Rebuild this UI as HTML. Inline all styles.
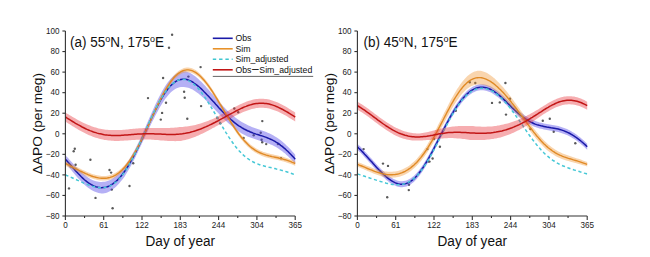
<!DOCTYPE html>
<html><head><meta charset="utf-8"><style>
html,body{margin:0;padding:0;background:#fff;width:650px;height:257px;overflow:hidden}
svg{display:block}
</style></head><body>
<svg width="650" height="257" viewBox="0 0 650 257">
<circle cx="172.1" cy="34.7" r="1.2" fill="#5a5a5a"/>
<circle cx="169" cy="47.8" r="1.2" fill="#5a5a5a"/>
<circle cx="200.6" cy="67.1" r="1.2" fill="#5a5a5a"/>
<circle cx="163.1" cy="78" r="1.2" fill="#5a5a5a"/>
<circle cx="188.4" cy="76.6" r="1.2" fill="#5a5a5a"/>
<circle cx="184.1" cy="91.8" r="1.2" fill="#5a5a5a"/>
<circle cx="184.7" cy="97.8" r="1.2" fill="#5a5a5a"/>
<circle cx="148" cy="98.1" r="1.2" fill="#5a5a5a"/>
<circle cx="166" cy="102.8" r="1.2" fill="#5a5a5a"/>
<circle cx="162.1" cy="112.9" r="1.2" fill="#5a5a5a"/>
<circle cx="160.8" cy="119.6" r="1.2" fill="#5a5a5a"/>
<circle cx="201.1" cy="106.1" r="1.2" fill="#5a5a5a"/>
<circle cx="187.3" cy="118.7" r="1.2" fill="#5a5a5a"/>
<circle cx="234.3" cy="108.5" r="1.2" fill="#5a5a5a"/>
<circle cx="238.2" cy="112.3" r="1.2" fill="#5a5a5a"/>
<circle cx="262.3" cy="121.1" r="1.2" fill="#5a5a5a"/>
<circle cx="217.4" cy="118" r="1.2" fill="#5a5a5a"/>
<circle cx="220.2" cy="123.2" r="1.2" fill="#5a5a5a"/>
<circle cx="253.7" cy="135.3" r="1.2" fill="#5a5a5a"/>
<circle cx="260.7" cy="132.8" r="1.2" fill="#5a5a5a"/>
<circle cx="261.6" cy="139.8" r="1.2" fill="#5a5a5a"/>
<circle cx="262.2" cy="142.2" r="1.2" fill="#5a5a5a"/>
<circle cx="266.2" cy="144.1" r="1.2" fill="#5a5a5a"/>
<circle cx="243.6" cy="137.9" r="1.2" fill="#5a5a5a"/>
<circle cx="281" cy="158.2" r="1.2" fill="#5a5a5a"/>
<circle cx="277.9" cy="144.1" r="1.2" fill="#5a5a5a"/>
<circle cx="73.7" cy="151.2" r="1.2" fill="#5a5a5a"/>
<circle cx="74.8" cy="148.8" r="1.2" fill="#5a5a5a"/>
<circle cx="90.4" cy="159.7" r="1.2" fill="#5a5a5a"/>
<circle cx="109.5" cy="170" r="1.2" fill="#5a5a5a"/>
<circle cx="111.1" cy="172.6" r="1.2" fill="#5a5a5a"/>
<circle cx="75.6" cy="164.8" r="1.2" fill="#5a5a5a"/>
<circle cx="70.9" cy="166.4" r="1.2" fill="#5a5a5a"/>
<circle cx="133.2" cy="163.2" r="1.2" fill="#5a5a5a"/>
<circle cx="129.5" cy="186" r="1.2" fill="#5a5a5a"/>
<circle cx="69" cy="188.4" r="1.2" fill="#5a5a5a"/>
<circle cx="95.5" cy="197.9" r="1.2" fill="#5a5a5a"/>
<circle cx="111.8" cy="189.6" r="1.2" fill="#5a5a5a"/>
<circle cx="112.6" cy="208.3" r="1.2" fill="#5a5a5a"/>
<path d="M65.4,155.2 L66.8,156.7 L68.3,158.3 L69.7,159.9 L71.2,161.5 L72.6,163.1 L74.1,164.7 L75.5,166.2 L77.0,167.7 L78.4,169.2 L79.9,170.6 L81.3,172.0 L82.7,173.3 L84.2,174.5 L85.6,175.7 L87.1,176.8 L88.5,177.8 L90.0,178.7 L91.4,179.5 L92.9,180.2 L94.3,180.7 L95.8,181.2 L97.2,181.6 L98.6,181.8 L100.1,182.0 L101.5,182.0 L103.0,181.8 L104.4,181.7 L105.9,181.5 L107.3,181.1 L108.8,180.6 L110.2,179.9 L111.6,179.2 L113.1,178.3 L114.5,177.3 L116.0,176.1 L117.4,174.8 L118.9,173.4 L120.3,171.8 L121.8,170.1 L123.2,168.3 L124.7,166.3 L126.1,164.3 L127.5,162.1 L129.0,159.9 L130.4,157.5 L131.9,155.0 L133.3,152.4 L134.8,149.7 L136.2,147.0 L137.7,144.1 L139.1,141.2 L140.6,138.1 L142.0,134.9 L143.4,131.6 L144.9,128.2 L146.3,124.9 L147.8,121.6 L149.2,118.2 L150.7,114.9 L152.1,111.7 L153.6,108.5 L155.0,105.3 L156.5,102.3 L157.9,99.3 L159.3,96.4 L160.8,93.7 L162.2,91.1 L163.7,88.6 L165.1,86.3 L166.6,84.1 L168.0,82.1 L169.5,80.3 L170.9,78.6 L172.4,77.1 L173.8,75.7 L175.2,74.6 L176.7,73.6 L178.1,72.8 L179.6,72.2 L181.0,71.7 L182.5,71.4 L183.9,71.3 L185.4,71.3 L186.8,71.7 L188.2,72.2 L189.7,72.8 L191.1,73.6 L192.6,74.5 L194.0,75.5 L195.5,76.6 L196.9,77.8 L198.4,79.0 L199.8,80.4 L201.3,81.8 L202.7,83.3 L204.1,84.8 L205.6,86.3 L207.0,87.9 L208.5,89.6 L209.9,91.2 L211.4,92.9 L212.8,94.6 L214.3,96.3 L215.7,97.9 L217.2,99.6 L218.6,101.3 L220.0,102.9 L221.5,104.5 L222.9,106.0 L224.4,107.5 L225.8,108.9 L227.3,110.4 L228.7,111.7 L230.2,113.1 L231.6,114.4 L233.1,115.6 L234.5,116.8 L235.9,117.9 L237.4,119.0 L238.8,120.0 L240.3,121.0 L241.7,121.9 L243.2,122.8 L244.6,123.6 L246.1,124.3 L247.5,125.0 L249.0,125.7 L250.4,126.3 L251.8,126.9 L253.3,127.5 L254.7,128.0 L256.2,128.5 L257.6,129.0 L259.1,129.5 L260.5,130.0 L262.0,130.5 L263.4,131.0 L264.8,131.6 L266.3,132.1 L267.7,132.7 L269.2,133.3 L270.6,134.0 L272.1,134.7 L273.5,135.5 L275.0,136.4 L276.4,137.2 L277.9,138.2 L279.3,139.2 L280.7,140.3 L282.2,141.5 L283.6,142.7 L285.1,144.0 L286.5,145.4 L288.0,146.8 L289.4,148.3 L290.9,149.8 L292.3,151.4 L293.8,153.0 L295.2,154.7 L295.2,163.7 L293.8,162.1 L292.3,160.6 L290.9,159.1 L289.4,157.7 L288.0,156.3 L286.5,154.9 L285.1,153.6 L283.6,152.4 L282.2,151.3 L280.7,150.2 L279.3,149.2 L277.9,148.2 L276.4,147.3 L275.0,146.5 L273.5,145.8 L272.1,145.1 L270.6,144.4 L269.2,143.8 L267.7,143.3 L266.3,142.8 L264.8,142.3 L263.4,141.8 L262.0,141.4 L260.5,141.0 L259.1,140.5 L257.6,140.1 L256.2,139.6 L254.7,139.1 L253.3,138.6 L251.8,138.1 L250.4,137.6 L249.0,137.0 L247.5,136.4 L246.1,135.7 L244.6,135.0 L243.2,134.2 L241.7,133.4 L240.3,132.5 L238.8,131.6 L237.4,130.6 L235.9,129.5 L234.5,128.4 L233.1,127.3 L231.6,126.1 L230.2,124.8 L228.7,123.5 L227.3,122.2 L225.8,120.8 L224.4,119.4 L222.9,117.9 L221.5,116.4 L220.0,114.9 L218.6,113.4 L217.2,111.9 L215.7,110.4 L214.3,108.9 L212.8,107.4 L211.4,105.9 L209.9,104.4 L208.5,102.9 L207.0,101.4 L205.6,100.0 L204.1,98.6 L202.7,97.2 L201.3,95.9 L199.8,94.7 L198.4,93.5 L196.9,92.4 L195.5,91.4 L194.0,90.4 L192.6,89.6 L191.1,88.9 L189.7,88.3 L188.2,87.8 L186.8,87.5 L185.4,87.3 L183.9,87.1 L182.5,87.0 L181.0,87.1 L179.6,87.3 L178.1,87.7 L176.7,88.3 L175.2,89.0 L173.8,90.0 L172.4,91.1 L170.9,92.3 L169.5,93.8 L168.0,95.4 L166.6,97.2 L165.1,99.1 L163.7,101.2 L162.2,103.4 L160.8,105.8 L159.3,108.3 L157.9,110.9 L156.5,113.6 L155.0,116.3 L153.6,119.2 L152.1,122.1 L150.7,125.1 L149.2,128.1 L147.8,131.1 L146.3,134.2 L144.9,137.2 L143.4,140.3 L142.0,143.3 L140.6,146.2 L139.1,149.3 L137.7,152.4 L136.2,155.5 L134.8,158.4 L133.3,161.3 L131.9,164.1 L130.4,166.8 L129.0,169.3 L127.5,171.8 L126.1,174.1 L124.7,176.4 L123.2,178.4 L121.8,180.3 L120.3,182.1 L118.9,183.8 L117.4,185.3 L116.0,186.7 L114.5,188.0 L113.1,189.1 L111.6,190.2 L110.2,191.0 L108.8,191.8 L107.3,192.4 L105.9,192.9 L104.4,193.2 L103.0,193.4 L101.5,193.4 L100.1,193.3 L98.6,193.0 L97.2,192.6 L95.8,192.1 L94.3,191.5 L92.9,190.8 L91.4,190.0 L90.0,189.0 L88.5,188.0 L87.1,186.9 L85.6,185.7 L84.2,184.4 L82.7,183.0 L81.3,181.5 L79.9,180.0 L78.4,178.5 L77.0,176.9 L75.5,175.2 L74.1,173.5 L72.6,171.8 L71.2,170.1 L69.7,168.4 L68.3,166.6 L66.8,164.9 L65.4,163.2 Z" fill="#4b40e6" fill-opacity="0.41"/>
<path d="M65.4,159.2 L66.8,160.8 L68.3,162.5 L69.7,164.1 L71.2,165.8 L72.6,167.4 L74.1,169.1 L75.5,170.7 L77.0,172.3 L78.4,173.8 L79.9,175.3 L81.3,176.8 L82.7,178.1 L84.2,179.5 L85.6,180.7 L87.1,181.8 L88.5,182.9 L90.0,183.8 L91.4,184.7 L92.9,185.5 L94.3,186.1 L95.8,186.7 L97.2,187.1 L98.6,187.4 L100.1,187.6 L101.5,187.7 L103.0,187.6 L104.4,187.5 L105.9,187.2 L107.3,186.7 L108.8,186.2 L110.2,185.5 L111.6,184.7 L113.1,183.7 L114.5,182.6 L116.0,181.4 L117.4,180.1 L118.9,178.6 L120.3,177.0 L121.8,175.2 L123.2,173.3 L124.7,171.3 L126.1,169.2 L127.5,167.0 L129.0,164.6 L130.4,162.1 L131.9,159.5 L133.3,156.9 L134.8,154.1 L136.2,151.2 L137.7,148.3 L139.1,145.3 L140.6,142.2 L142.0,139.1 L143.4,135.9 L144.9,132.7 L146.3,129.5 L147.8,126.3 L149.2,123.2 L150.7,120.0 L152.1,116.9 L153.6,113.8 L155.0,110.8 L156.5,107.9 L157.9,105.1 L159.3,102.4 L160.8,99.7 L162.2,97.3 L163.7,94.9 L165.1,92.7 L166.6,90.7 L168.0,88.8 L169.5,87.0 L170.9,85.5 L172.4,84.1 L173.8,82.9 L175.2,81.8 L176.7,80.9 L178.1,80.3 L179.6,79.7 L181.0,79.4 L182.5,79.2 L183.9,79.2 L185.4,79.3 L186.8,79.6 L188.2,80.0 L189.7,80.6 L191.1,81.2 L192.6,82.0 L194.0,83.0 L195.5,84.0 L196.9,85.1 L198.4,86.3 L199.8,87.5 L201.3,88.9 L202.7,90.2 L204.1,91.7 L205.6,93.2 L207.0,94.7 L208.5,96.2 L209.9,97.8 L211.4,99.4 L212.8,101.0 L214.3,102.6 L215.7,104.2 L217.2,105.8 L218.6,107.4 L220.0,108.9 L221.5,110.4 L222.9,111.9 L224.4,113.4 L225.8,114.9 L227.3,116.3 L228.7,117.6 L230.2,118.9 L231.6,120.2 L233.1,121.4 L234.5,122.6 L235.9,123.7 L237.4,124.8 L238.8,125.8 L240.3,126.7 L241.7,127.6 L243.2,128.5 L244.6,129.3 L246.1,130.0 L247.5,130.7 L249.0,131.3 L250.4,132.0 L251.8,132.5 L253.3,133.1 L254.7,133.6 L256.2,134.1 L257.6,134.5 L259.1,135.0 L260.5,135.5 L262.0,135.9 L263.4,136.4 L264.8,136.9 L266.3,137.4 L267.7,138.0 L269.2,138.6 L270.6,139.2 L272.1,139.9 L273.5,140.6 L275.0,141.4 L276.4,142.3 L277.9,143.2 L279.3,144.2 L280.7,145.3 L282.2,146.4 L283.6,147.6 L285.1,148.8 L286.5,150.2 L288.0,151.5 L289.4,153.0 L290.9,154.5 L292.3,156.0 L293.8,157.6 L295.2,159.2" fill="none" stroke="#1a1aa8" stroke-width="1.5"/>
<path d="M65.4,161.2 L66.8,161.9 L68.3,162.6 L69.7,163.3 L71.2,164.0 L72.6,164.7 L74.1,165.5 L75.5,166.2 L77.0,167.0 L78.4,167.7 L79.9,168.5 L81.3,169.2 L82.7,169.9 L84.2,170.6 L85.6,171.3 L87.1,171.9 L88.5,172.5 L90.0,173.1 L91.4,173.7 L92.9,174.2 L94.3,174.6 L95.8,175.0 L97.2,175.3 L98.6,175.6 L100.1,175.8 L101.5,176.0 L103.0,176.0 L104.4,176.0 L105.9,175.9 L107.3,175.7 L108.8,175.4 L110.2,175.1 L111.6,174.6 L113.1,174.0 L114.5,173.3 L116.0,172.5 L117.4,171.5 L118.9,170.5 L120.3,169.3 L121.8,168.0 L123.2,166.5 L124.7,165.0 L126.1,163.2 L127.5,161.4 L129.0,159.5 L130.4,157.4 L131.9,155.1 L133.3,152.8 L134.8,150.4 L136.2,147.8 L137.7,145.1 L139.1,142.4 L140.6,139.5 L142.0,136.6 L143.4,133.6 L144.9,130.5 L146.3,127.4 L147.8,124.3 L149.2,121.1 L150.7,117.9 L152.1,114.7 L153.6,111.6 L155.0,108.4 L156.5,105.3 L157.9,102.3 L159.3,99.3 L160.8,96.4 L162.2,93.6 L163.7,90.9 L165.1,88.3 L166.6,85.8 L168.0,83.5 L169.5,81.3 L170.9,79.2 L172.4,77.3 L173.8,75.5 L175.2,74.0 L176.7,72.6 L178.1,71.3 L179.6,70.3 L181.0,69.4 L182.5,68.7 L183.9,68.1 L185.4,67.8 L186.8,67.6 L188.2,67.6 L189.7,67.8 L191.1,68.1 L192.6,68.6 L194.0,69.3 L195.5,70.1 L196.9,71.1 L198.4,72.2 L199.8,73.5 L201.3,74.9 L202.7,76.4 L204.1,78.0 L205.6,79.8 L207.0,81.6 L208.5,83.6 L209.9,85.6 L211.4,87.7 L212.8,89.9 L214.3,92.2 L215.7,94.5 L217.2,96.9 L218.6,99.3 L220.0,101.7 L221.5,104.1 L222.9,106.6 L224.4,109.0 L225.8,111.5 L227.3,113.9 L228.7,116.3 L230.2,118.7 L231.6,121.0 L233.1,123.2 L234.5,125.5 L235.9,127.6 L237.4,129.7 L238.8,131.7 L240.3,133.6 L241.7,135.4 L243.2,137.1 L244.6,138.8 L246.1,140.3 L247.5,141.8 L249.0,143.1 L250.4,144.4 L251.8,145.6 L253.3,146.6 L254.7,147.6 L256.2,148.5 L257.6,149.3 L259.1,150.0 L260.5,150.7 L262.0,151.3 L263.4,151.9 L264.8,152.3 L266.3,152.8 L267.7,153.2 L269.2,153.6 L270.6,153.9 L272.1,154.3 L273.5,154.6 L275.0,154.9 L276.4,155.2 L277.9,155.5 L279.3,155.9 L280.7,156.2 L282.2,156.6 L283.6,157.0 L285.1,157.4 L286.5,157.9 L288.0,158.4 L289.4,158.9 L290.9,159.4 L292.3,160.0 L293.8,160.6 L295.2,161.2 L295.2,165.8 L293.8,165.2 L292.3,164.6 L290.9,164.0 L289.4,163.5 L288.0,163.0 L286.5,162.5 L285.1,162.0 L283.6,161.6 L282.2,161.2 L280.7,160.8 L279.3,160.5 L277.9,160.1 L276.4,159.8 L275.0,159.5 L273.5,159.2 L272.1,158.9 L270.6,158.5 L269.2,158.2 L267.7,157.8 L266.3,157.4 L264.8,156.9 L263.4,156.5 L262.0,155.9 L260.5,155.3 L259.1,154.6 L257.6,153.9 L256.2,153.1 L254.7,152.2 L253.3,151.2 L251.8,150.2 L250.4,149.0 L249.0,147.7 L247.5,146.4 L246.1,144.9 L244.6,143.4 L243.2,141.7 L241.7,140.0 L240.3,138.2 L238.8,136.3 L237.4,134.3 L235.9,132.2 L234.5,130.1 L233.1,127.8 L231.6,125.6 L230.2,123.3 L228.7,120.9 L227.3,118.5 L225.8,116.1 L224.4,113.6 L222.9,111.2 L221.5,108.7 L220.0,106.3 L218.6,103.9 L217.2,101.5 L215.7,99.1 L214.3,96.8 L212.8,94.5 L211.4,92.3 L209.9,90.2 L208.5,88.2 L207.0,86.2 L205.6,84.4 L204.1,82.6 L202.7,81.0 L201.3,79.5 L199.8,78.1 L198.4,76.8 L196.9,75.7 L195.5,74.7 L194.0,73.9 L192.6,73.2 L191.1,72.7 L189.7,72.4 L188.2,72.2 L186.8,72.2 L185.4,72.4 L183.9,72.7 L182.5,73.3 L181.0,74.0 L179.6,74.9 L178.1,75.9 L176.7,77.2 L175.2,78.6 L173.8,80.1 L172.4,81.9 L170.9,83.8 L169.5,85.9 L168.0,88.1 L166.6,90.4 L165.1,92.9 L163.7,95.5 L162.2,98.2 L160.8,101.0 L159.3,103.9 L157.9,106.9 L156.5,109.9 L155.0,113.0 L153.6,116.2 L152.1,119.3 L150.7,122.5 L149.2,125.7 L147.8,128.9 L146.3,132.0 L144.9,135.1 L143.4,138.2 L142.0,141.2 L140.6,144.1 L139.1,147.0 L137.7,149.7 L136.2,152.4 L134.8,155.0 L133.3,157.4 L131.9,159.7 L130.4,162.0 L129.0,164.1 L127.5,166.0 L126.1,167.8 L124.7,169.6 L123.2,171.1 L121.8,172.6 L120.3,173.9 L118.9,175.1 L117.4,176.1 L116.0,177.1 L114.5,177.9 L113.1,178.6 L111.6,179.2 L110.2,179.7 L108.8,180.0 L107.3,180.3 L105.9,180.5 L104.4,180.6 L103.0,180.6 L101.5,180.6 L100.1,180.4 L98.6,180.2 L97.2,179.9 L95.8,179.6 L94.3,179.2 L92.9,178.8 L91.4,178.3 L90.0,177.7 L88.5,177.1 L87.1,176.5 L85.6,175.9 L84.2,175.2 L82.7,174.5 L81.3,173.8 L79.9,173.1 L78.4,172.3 L77.0,171.6 L75.5,170.8 L74.1,170.1 L72.6,169.3 L71.2,168.6 L69.7,167.9 L68.3,167.2 L66.8,166.5 L65.4,165.8 Z" fill="#f0902a" fill-opacity="0.38"/>
<path d="M65.4,163.5 L66.8,164.2 L68.3,164.9 L69.7,165.6 L71.2,166.3 L72.6,167.0 L74.1,167.8 L75.5,168.5 L77.0,169.3 L78.4,170.0 L79.9,170.8 L81.3,171.5 L82.7,172.2 L84.2,172.9 L85.6,173.6 L87.1,174.2 L88.5,174.8 L90.0,175.4 L91.4,176.0 L92.9,176.5 L94.3,176.9 L95.8,177.3 L97.2,177.6 L98.6,177.9 L100.1,178.1 L101.5,178.3 L103.0,178.3 L104.4,178.3 L105.9,178.2 L107.3,178.0 L108.8,177.7 L110.2,177.4 L111.6,176.9 L113.1,176.3 L114.5,175.6 L116.0,174.8 L117.4,173.8 L118.9,172.8 L120.3,171.6 L121.8,170.3 L123.2,168.8 L124.7,167.3 L126.1,165.5 L127.5,163.7 L129.0,161.8 L130.4,159.7 L131.9,157.4 L133.3,155.1 L134.8,152.7 L136.2,150.1 L137.7,147.4 L139.1,144.7 L140.6,141.8 L142.0,138.9 L143.4,135.9 L144.9,132.8 L146.3,129.7 L147.8,126.6 L149.2,123.4 L150.7,120.2 L152.1,117.0 L153.6,113.9 L155.0,110.7 L156.5,107.6 L157.9,104.6 L159.3,101.6 L160.8,98.7 L162.2,95.9 L163.7,93.2 L165.1,90.6 L166.6,88.1 L168.0,85.8 L169.5,83.6 L170.9,81.5 L172.4,79.6 L173.8,77.8 L175.2,76.3 L176.7,74.9 L178.1,73.6 L179.6,72.6 L181.0,71.7 L182.5,71.0 L183.9,70.4 L185.4,70.1 L186.8,69.9 L188.2,69.9 L189.7,70.1 L191.1,70.4 L192.6,70.9 L194.0,71.6 L195.5,72.4 L196.9,73.4 L198.4,74.5 L199.8,75.8 L201.3,77.2 L202.7,78.7 L204.1,80.3 L205.6,82.1 L207.0,83.9 L208.5,85.9 L209.9,87.9 L211.4,90.0 L212.8,92.2 L214.3,94.5 L215.7,96.8 L217.2,99.2 L218.6,101.6 L220.0,104.0 L221.5,106.4 L222.9,108.9 L224.4,111.3 L225.8,113.8 L227.3,116.2 L228.7,118.6 L230.2,121.0 L231.6,123.3 L233.1,125.5 L234.5,127.8 L235.9,129.9 L237.4,132.0 L238.8,134.0 L240.3,135.9 L241.7,137.7 L243.2,139.4 L244.6,141.1 L246.1,142.6 L247.5,144.1 L249.0,145.4 L250.4,146.7 L251.8,147.9 L253.3,148.9 L254.7,149.9 L256.2,150.8 L257.6,151.6 L259.1,152.3 L260.5,153.0 L262.0,153.6 L263.4,154.2 L264.8,154.6 L266.3,155.1 L267.7,155.5 L269.2,155.9 L270.6,156.2 L272.1,156.6 L273.5,156.9 L275.0,157.2 L276.4,157.5 L277.9,157.8 L279.3,158.2 L280.7,158.5 L282.2,158.9 L283.6,159.3 L285.1,159.7 L286.5,160.2 L288.0,160.7 L289.4,161.2 L290.9,161.7 L292.3,162.3 L293.8,162.9 L295.2,163.5" fill="none" stroke="#e08a26" stroke-width="1.4"/>
<path d="M65.4,174.9 L66.8,175.5 L68.3,176.1 L69.7,176.8 L71.2,177.4 L72.6,178.0 L74.1,178.7 L75.5,179.3 L77.0,180.0 L78.4,180.6 L79.9,181.3 L81.3,181.9 L82.7,182.6 L84.2,183.2 L85.6,183.8 L87.1,184.4 L88.5,185.0 L90.0,185.5 L91.4,186.0 L92.9,186.4 L94.3,186.8 L95.8,187.2 L97.2,187.4 L98.6,187.6 L100.1,187.8 L101.5,187.8 L103.0,187.7 L104.4,187.6 L105.9,187.3 L107.3,187.0 L108.8,186.5 L110.2,185.8 L111.6,185.1 L113.1,184.2 L114.5,183.2 L116.0,182.0 L117.4,180.7 L118.9,179.2 L120.3,177.6 L121.8,175.8 L123.2,173.9 L124.7,171.9 L126.1,169.7 L127.5,167.3 L129.0,164.9 L130.4,162.3 L131.9,159.6 L133.3,156.8 L134.8,153.9 L136.2,150.9 L137.7,147.9 L139.1,144.8 L140.6,141.6 L142.0,138.4 L143.4,135.2 L144.9,131.9 L146.3,128.7 L147.8,125.5 L149.2,122.3 L150.7,119.1 L152.1,116.0 L153.6,113.0 L155.0,110.0 L156.5,107.1 L157.9,104.4 L159.3,101.7 L160.8,99.2 L162.2,96.7 L163.7,94.5 L165.1,92.3 L166.6,90.3 L168.0,88.5 L169.5,86.8 L170.9,85.3 L172.4,84.0 L173.8,82.8 L175.2,81.8 L176.7,81.0 L178.1,80.3 L179.6,79.8 L181.0,79.5 L182.5,79.4 L183.9,79.4 L185.4,79.6 L186.8,80.0 L188.2,80.6 L189.7,81.3 L191.1,82.2 L192.6,83.2 L194.0,84.4 L195.5,85.7 L196.9,87.1 L198.4,88.7 L199.8,90.4 L201.3,92.3 L202.7,94.2 L204.1,96.2 L205.6,98.4 L207.0,100.6 L208.5,102.9 L209.9,105.2 L211.4,107.6 L212.8,110.0 L214.3,112.5 L215.7,115.0 L217.2,117.5 L218.6,120.1 L220.0,122.6 L221.5,125.0 L222.9,127.5 L224.4,129.9 L225.8,132.3 L227.3,134.6 L228.7,136.9 L230.2,139.1 L231.6,141.2 L233.1,143.2 L234.5,145.2 L235.9,147.0 L237.4,148.8 L238.8,150.5 L240.3,152.0 L241.7,153.5 L243.2,154.9 L244.6,156.2 L246.1,157.3 L247.5,158.4 L249.0,159.5 L250.4,160.4 L251.8,161.2 L253.3,162.0 L254.7,162.7 L256.2,163.3 L257.6,163.9 L259.1,164.5 L260.5,165.0 L262.0,165.4 L263.4,165.8 L264.8,166.2 L266.3,166.6 L267.7,166.9 L269.2,167.3 L270.6,167.6 L272.1,167.9 L273.5,168.3 L275.0,168.6 L276.4,169.0 L277.9,169.3 L279.3,169.7 L280.7,170.1 L282.2,170.5 L283.6,170.9 L285.1,171.3 L286.5,171.8 L288.0,172.3 L289.4,172.8 L290.9,173.3 L292.3,173.8 L293.8,174.4 L295.2,174.9" fill="none" stroke="#46c8d6" stroke-width="1.5" stroke-dasharray="3.2 2.6"/>
<path d="M65.4,112.5 L66.8,113.4 L68.3,114.3 L69.7,115.2 L71.2,116.0 L72.6,116.9 L74.1,117.8 L75.5,118.6 L77.0,119.4 L78.4,120.2 L79.9,121.0 L81.3,121.7 L82.7,122.5 L84.2,123.2 L85.6,123.8 L87.1,124.5 L88.5,125.1 L90.0,125.6 L91.4,126.2 L92.9,126.7 L94.3,127.2 L95.8,127.6 L97.2,128.0 L98.6,128.4 L100.1,128.7 L101.5,129.0 L103.0,129.2 L104.4,129.5 L105.9,129.7 L107.3,129.8 L108.8,129.9 L110.2,130.0 L111.6,130.1 L113.1,130.1 L114.5,130.1 L116.0,130.1 L117.4,130.1 L118.9,130.0 L120.3,130.0 L121.8,129.9 L123.2,129.8 L124.7,129.7 L126.1,129.5 L127.5,129.4 L129.0,129.3 L130.4,129.1 L131.9,129.0 L133.3,128.8 L134.8,128.7 L136.2,128.6 L137.7,128.4 L139.1,128.3 L140.6,128.2 L142.0,128.2 L143.4,128.1 L144.9,128.0 L146.3,128.0 L147.8,128.0 L149.2,127.9 L150.7,127.9 L152.1,127.9 L153.6,127.9 L155.0,127.9 L156.5,127.9 L157.9,127.9 L159.3,127.9 L160.8,127.9 L162.2,127.9 L163.7,127.9 L165.1,127.9 L166.6,127.9 L168.0,127.9 L169.5,127.9 L170.9,127.8 L172.4,127.8 L173.8,127.7 L175.2,127.6 L176.7,127.5 L178.1,127.3 L179.6,127.1 L181.0,126.9 L182.5,126.9 L183.9,126.8 L185.4,126.6 L186.8,126.5 L188.2,126.3 L189.7,126.1 L191.1,125.8 L192.6,125.5 L194.0,125.2 L195.5,124.9 L196.9,124.5 L198.4,124.1 L199.8,123.7 L201.3,123.3 L202.7,122.8 L204.1,122.3 L205.6,121.8 L207.0,121.3 L208.5,120.7 L209.9,120.1 L211.4,119.6 L212.8,118.9 L214.3,118.2 L215.7,117.4 L217.2,116.7 L218.6,115.9 L220.0,115.1 L221.5,114.3 L222.9,113.6 L224.4,112.8 L225.8,112.0 L227.3,111.2 L228.7,110.4 L230.2,109.6 L231.6,108.8 L233.1,108.0 L234.5,107.2 L235.9,106.5 L237.4,105.7 L238.8,105.0 L240.3,104.3 L241.7,103.7 L243.2,103.0 L244.6,102.4 L246.1,101.8 L247.5,101.3 L249.0,100.8 L250.4,100.4 L251.8,100.0 L253.3,99.6 L254.7,99.3 L256.2,99.1 L257.6,98.9 L259.1,98.8 L260.5,98.7 L262.0,98.7 L263.4,98.8 L264.8,98.9 L266.3,99.1 L267.7,99.3 L269.2,99.6 L270.6,100.0 L272.1,100.4 L273.5,100.9 L275.0,101.4 L276.4,102.0 L277.9,102.6 L279.3,103.3 L280.7,104.0 L282.2,104.7 L283.6,105.5 L285.1,106.3 L286.5,107.1 L288.0,108.0 L289.4,108.9 L290.9,109.8 L292.3,110.7 L293.8,111.6 L295.2,112.5 L295.2,121.5 L293.8,120.6 L292.3,119.7 L290.9,118.8 L289.4,117.9 L288.0,117.0 L286.5,116.1 L285.1,115.3 L283.6,114.5 L282.2,113.7 L280.7,113.0 L279.3,112.3 L277.9,111.6 L276.4,111.0 L275.0,110.4 L273.5,109.9 L272.1,109.4 L270.6,109.0 L269.2,108.6 L267.7,108.3 L266.3,108.1 L264.8,107.9 L263.4,107.8 L262.0,107.7 L260.5,107.7 L259.1,107.8 L257.6,107.9 L256.2,108.1 L254.7,108.4 L253.3,108.7 L251.8,109.0 L250.4,109.4 L249.0,109.9 L247.5,110.4 L246.1,110.9 L244.6,111.5 L243.2,112.1 L241.7,112.7 L240.3,113.4 L238.8,114.1 L237.4,114.8 L235.9,115.6 L234.5,116.3 L233.1,117.1 L231.6,117.9 L230.2,118.7 L228.7,119.5 L227.3,120.3 L225.8,121.1 L224.4,121.9 L222.9,122.7 L221.5,123.5 L220.0,124.3 L218.6,125.1 L217.2,125.8 L215.7,126.6 L214.3,127.4 L212.8,128.1 L211.4,128.9 L209.9,129.7 L208.5,130.5 L207.0,131.2 L205.6,132.0 L204.1,132.7 L202.7,133.5 L201.3,134.1 L199.8,134.8 L198.4,135.5 L196.9,136.1 L195.5,136.7 L194.0,137.2 L192.6,137.8 L191.1,138.3 L189.7,138.7 L188.2,139.2 L186.8,139.6 L185.4,140.0 L183.9,140.3 L182.5,140.6 L181.0,140.9 L179.6,141.0 L178.1,141.1 L176.7,141.1 L175.2,141.2 L173.8,141.1 L172.4,141.1 L170.9,141.1 L169.5,141.0 L168.0,140.9 L166.6,140.8 L165.1,140.7 L163.7,140.6 L162.2,140.5 L160.8,140.4 L159.3,140.2 L157.9,140.1 L156.5,140.0 L155.0,139.9 L153.6,139.8 L152.1,139.7 L150.7,139.6 L149.2,139.5 L147.8,139.5 L146.3,139.5 L144.9,139.5 L143.4,139.5 L142.0,139.6 L140.6,139.6 L139.1,139.7 L137.7,139.7 L136.2,139.8 L134.8,139.9 L133.3,140.0 L131.9,140.1 L130.4,140.2 L129.0,140.3 L127.5,140.4 L126.1,140.5 L124.7,140.6 L123.2,140.7 L121.8,140.8 L120.3,140.8 L118.9,140.9 L117.4,140.9 L116.0,140.9 L114.5,140.9 L113.1,140.8 L111.6,140.7 L110.2,140.6 L108.8,140.5 L107.3,140.3 L105.9,140.1 L104.4,139.9 L103.0,139.6 L101.5,139.3 L100.1,138.9 L98.6,138.6 L97.2,138.1 L95.8,137.7 L94.3,137.2 L92.9,136.7 L91.4,136.1 L90.0,135.5 L88.5,134.9 L87.1,134.2 L85.6,133.6 L84.2,132.8 L82.7,132.1 L81.3,131.3 L79.9,130.5 L78.4,129.7 L77.0,128.8 L75.5,128.0 L74.1,127.1 L72.6,126.2 L71.2,125.3 L69.7,124.3 L68.3,123.4 L66.8,122.4 L65.4,121.5 Z" fill="#e8323a" fill-opacity="0.4"/>
<path d="M65.4,117.0 L66.8,117.9 L68.3,118.8 L69.7,119.7 L71.2,120.6 L72.6,121.5 L74.1,122.4 L75.5,123.3 L77.0,124.1 L78.4,124.9 L79.9,125.7 L81.3,126.5 L82.7,127.3 L84.2,128.0 L85.6,128.7 L87.1,129.4 L88.5,130.0 L90.0,130.6 L91.4,131.1 L92.9,131.7 L94.3,132.2 L95.8,132.6 L97.2,133.1 L98.6,133.5 L100.1,133.8 L101.5,134.1 L103.0,134.4 L104.4,134.7 L105.9,134.9 L107.3,135.1 L108.8,135.2 L110.2,135.3 L111.6,135.4 L113.1,135.5 L114.5,135.5 L116.0,135.5 L117.4,135.5 L118.9,135.5 L120.3,135.4 L121.8,135.3 L123.2,135.2 L124.7,135.1 L126.1,135.0 L127.5,134.9 L129.0,134.8 L130.4,134.7 L131.9,134.5 L133.3,134.4 L134.8,134.3 L136.2,134.2 L137.7,134.1 L139.1,134.0 L140.6,133.9 L142.0,133.9 L143.4,133.8 L144.9,133.8 L146.3,133.7 L147.8,133.7 L149.2,133.7 L150.7,133.8 L152.1,133.8 L153.6,133.8 L155.0,133.9 L156.5,133.9 L157.9,134.0 L159.3,134.1 L160.8,134.1 L162.2,134.2 L163.7,134.3 L165.1,134.3 L166.6,134.4 L168.0,134.4 L169.5,134.4 L170.9,134.5 L172.4,134.5 L173.8,134.4 L175.2,134.4 L176.7,134.3 L178.1,134.2 L179.6,134.1 L181.0,133.9 L182.5,133.8 L183.9,133.5 L185.4,133.3 L186.8,133.0 L188.2,132.7 L189.7,132.4 L191.1,132.0 L192.6,131.6 L194.0,131.2 L195.5,130.8 L196.9,130.3 L198.4,129.8 L199.8,129.3 L201.3,128.7 L202.7,128.1 L204.1,127.5 L205.6,126.9 L207.0,126.3 L208.5,125.6 L209.9,124.9 L211.4,124.2 L212.8,123.5 L214.3,122.8 L215.7,122.0 L217.2,121.3 L218.6,120.5 L220.0,119.7 L221.5,118.9 L222.9,118.1 L224.4,117.3 L225.8,116.5 L227.3,115.7 L228.7,114.9 L230.2,114.1 L231.6,113.3 L233.1,112.6 L234.5,111.8 L235.9,111.0 L237.4,110.3 L238.8,109.6 L240.3,108.9 L241.7,108.2 L243.2,107.5 L244.6,106.9 L246.1,106.4 L247.5,105.8 L249.0,105.3 L250.4,104.9 L251.8,104.5 L253.3,104.1 L254.7,103.8 L256.2,103.6 L257.6,103.4 L259.1,103.3 L260.5,103.2 L262.0,103.2 L263.4,103.3 L264.8,103.4 L266.3,103.6 L267.7,103.8 L269.2,104.1 L270.6,104.5 L272.1,104.9 L273.5,105.4 L275.0,105.9 L276.4,106.5 L277.9,107.1 L279.3,107.8 L280.7,108.5 L282.2,109.2 L283.6,110.0 L285.1,110.8 L286.5,111.6 L288.0,112.5 L289.4,113.4 L290.9,114.3 L292.3,115.2 L293.8,116.1 L295.2,117.0" fill="none" stroke="#c21616" stroke-width="1.5"/>
<path d="M65.4,31.0 L65.4,216.0 L295.20000000000005,216.0" fill="none" stroke="#333" stroke-width="1.1"/>
<line x1="62.400000000000006" y1="31.00" x2="65.4" y2="31.00" stroke="#333" stroke-width="1.1"/>
<text transform="translate(59.400000000000006,33.80) scale(1,1.1)" font-family="Liberation Sans" font-size="8.1" text-anchor="end" fill="#222">100</text>
<line x1="62.400000000000006" y1="51.56" x2="65.4" y2="51.56" stroke="#333" stroke-width="1.1"/>
<text transform="translate(59.400000000000006,54.36) scale(1,1.1)" font-family="Liberation Sans" font-size="8.1" text-anchor="end" fill="#222">80</text>
<line x1="62.400000000000006" y1="72.11" x2="65.4" y2="72.11" stroke="#333" stroke-width="1.1"/>
<text transform="translate(59.400000000000006,74.91) scale(1,1.1)" font-family="Liberation Sans" font-size="8.1" text-anchor="end" fill="#222">60</text>
<line x1="62.400000000000006" y1="92.67" x2="65.4" y2="92.67" stroke="#333" stroke-width="1.1"/>
<text transform="translate(59.400000000000006,95.47) scale(1,1.1)" font-family="Liberation Sans" font-size="8.1" text-anchor="end" fill="#222">40</text>
<line x1="62.400000000000006" y1="113.22" x2="65.4" y2="113.22" stroke="#333" stroke-width="1.1"/>
<text transform="translate(59.400000000000006,116.02) scale(1,1.1)" font-family="Liberation Sans" font-size="8.1" text-anchor="end" fill="#222">20</text>
<line x1="62.400000000000006" y1="133.78" x2="65.4" y2="133.78" stroke="#333" stroke-width="1.1"/>
<text transform="translate(59.400000000000006,136.58) scale(1,1.1)" font-family="Liberation Sans" font-size="8.1" text-anchor="end" fill="#222">0</text>
<line x1="62.400000000000006" y1="154.33" x2="65.4" y2="154.33" stroke="#333" stroke-width="1.1"/>
<text transform="translate(59.400000000000006,157.13) scale(1,1.1)" font-family="Liberation Sans" font-size="8.1" text-anchor="end" fill="#222">−20</text>
<line x1="62.400000000000006" y1="174.89" x2="65.4" y2="174.89" stroke="#333" stroke-width="1.1"/>
<text transform="translate(59.400000000000006,177.69) scale(1,1.1)" font-family="Liberation Sans" font-size="8.1" text-anchor="end" fill="#222">−40</text>
<line x1="62.400000000000006" y1="195.44" x2="65.4" y2="195.44" stroke="#333" stroke-width="1.1"/>
<text transform="translate(59.400000000000006,198.24) scale(1,1.1)" font-family="Liberation Sans" font-size="8.1" text-anchor="end" fill="#222">−60</text>
<line x1="62.400000000000006" y1="216.00" x2="65.4" y2="216.00" stroke="#333" stroke-width="1.1"/>
<text transform="translate(59.400000000000006,218.80) scale(1,1.1)" font-family="Liberation Sans" font-size="8.1" text-anchor="end" fill="#222">−80</text>
<line x1="65.40" y1="216.0" x2="65.40" y2="220.0" stroke="#333" stroke-width="1.1"/>
<text transform="translate(65.40,227.9) scale(1,1.1)" font-family="Liberation Sans" font-size="8.1" text-anchor="middle" fill="#222">0</text>
<line x1="84.55" y1="216.0" x2="84.55" y2="218.0" stroke="#333" stroke-width="1.1"/>
<line x1="103.70" y1="216.0" x2="103.70" y2="220.0" stroke="#333" stroke-width="1.1"/>
<text transform="translate(103.70,227.9) scale(1,1.1)" font-family="Liberation Sans" font-size="8.1" text-anchor="middle" fill="#222">61</text>
<line x1="122.85" y1="216.0" x2="122.85" y2="218.0" stroke="#333" stroke-width="1.1"/>
<line x1="142.00" y1="216.0" x2="142.00" y2="220.0" stroke="#333" stroke-width="1.1"/>
<text transform="translate(142.00,227.9) scale(1,1.1)" font-family="Liberation Sans" font-size="8.1" text-anchor="middle" fill="#222">122</text>
<line x1="161.15" y1="216.0" x2="161.15" y2="218.0" stroke="#333" stroke-width="1.1"/>
<line x1="180.30" y1="216.0" x2="180.30" y2="220.0" stroke="#333" stroke-width="1.1"/>
<text transform="translate(180.30,227.9) scale(1,1.1)" font-family="Liberation Sans" font-size="8.1" text-anchor="middle" fill="#222">183</text>
<line x1="199.45" y1="216.0" x2="199.45" y2="218.0" stroke="#333" stroke-width="1.1"/>
<line x1="218.60" y1="216.0" x2="218.60" y2="220.0" stroke="#333" stroke-width="1.1"/>
<text transform="translate(218.60,227.9) scale(1,1.1)" font-family="Liberation Sans" font-size="8.1" text-anchor="middle" fill="#222">244</text>
<line x1="237.75" y1="216.0" x2="237.75" y2="218.0" stroke="#333" stroke-width="1.1"/>
<line x1="256.90" y1="216.0" x2="256.90" y2="220.0" stroke="#333" stroke-width="1.1"/>
<text transform="translate(256.90,227.9) scale(1,1.1)" font-family="Liberation Sans" font-size="8.1" text-anchor="middle" fill="#222">304</text>
<line x1="276.05" y1="216.0" x2="276.05" y2="218.0" stroke="#333" stroke-width="1.1"/>
<line x1="295.20" y1="216.0" x2="295.20" y2="220.0" stroke="#333" stroke-width="1.1"/>
<text transform="translate(295.20,227.9) scale(1,1.1)" font-family="Liberation Sans" font-size="8.1" text-anchor="middle" fill="#222">365</text>
<text transform="translate(180.3,245.9) scale(1,1.1)" font-family="Liberation Sans" font-size="13.6" text-anchor="middle" fill="#111">Day of year</text>
<text transform="translate(41.50000000000001,123.6) rotate(-90) scale(1.03,0.92)" font-family="Liberation Sans" font-size="13.3" text-anchor="middle" fill="#111">ΔAPO (per meg)</text>
<text transform="translate(70.0,47.0) scale(1,1.1)" font-family="Liberation Sans" font-size="13.5" fill="#111">(a) 55<tspan font-size="9" dy="-4.8">o</tspan><tspan dy="4.8">N, 175</tspan><tspan font-size="9" dy="-4.8">o</tspan><tspan dy="4.8">E</tspan></text>
<circle cx="469.8" cy="82.3" r="1.2" fill="#5a5a5a"/>
<circle cx="475.3" cy="83" r="1.2" fill="#5a5a5a"/>
<circle cx="505.4" cy="83" r="1.2" fill="#5a5a5a"/>
<circle cx="455.8" cy="110.7" r="1.2" fill="#5a5a5a"/>
<circle cx="492" cy="102.9" r="1.2" fill="#5a5a5a"/>
<circle cx="499.8" cy="102.4" r="1.2" fill="#5a5a5a"/>
<circle cx="510" cy="98.8" r="1.2" fill="#5a5a5a"/>
<circle cx="506" cy="114.6" r="1.2" fill="#5a5a5a"/>
<circle cx="542.8" cy="120.8" r="1.2" fill="#5a5a5a"/>
<circle cx="549.8" cy="118.7" r="1.2" fill="#5a5a5a"/>
<circle cx="530.4" cy="129" r="1.2" fill="#5a5a5a"/>
<circle cx="553.7" cy="131.8" r="1.2" fill="#5a5a5a"/>
<circle cx="575.3" cy="143.2" r="1.2" fill="#5a5a5a"/>
<circle cx="363.6" cy="149.1" r="1.2" fill="#5a5a5a"/>
<circle cx="427.4" cy="149.1" r="1.2" fill="#5a5a5a"/>
<circle cx="434.1" cy="139" r="1.2" fill="#5a5a5a"/>
<circle cx="439.9" cy="146.8" r="1.2" fill="#5a5a5a"/>
<circle cx="432.6" cy="158.5" r="1.2" fill="#5a5a5a"/>
<circle cx="429.5" cy="161.6" r="1.2" fill="#5a5a5a"/>
<circle cx="383" cy="163.6" r="1.2" fill="#5a5a5a"/>
<circle cx="388" cy="165.9" r="1.2" fill="#5a5a5a"/>
<circle cx="409" cy="184.8" r="1.2" fill="#5a5a5a"/>
<circle cx="408.8" cy="190.1" r="1.2" fill="#5a5a5a"/>
<circle cx="387.2" cy="197.2" r="1.2" fill="#5a5a5a"/>
<circle cx="428.5" cy="161.6" r="1.2" fill="#5a5a5a"/>
<path d="M357.4,143.8 L358.8,145.2 L360.3,146.6 L361.7,148.1 L363.2,149.6 L364.6,151.2 L366.1,152.7 L367.5,154.3 L369.0,155.9 L370.4,157.5 L371.9,159.1 L373.3,160.7 L374.7,162.3 L376.2,163.9 L377.6,165.4 L379.1,167.0 L380.5,168.4 L382.0,169.9 L383.4,171.3 L384.9,172.6 L386.3,173.9 L387.8,175.1 L389.2,176.2 L390.6,177.2 L392.1,178.1 L393.5,178.9 L395.0,179.6 L396.4,180.2 L397.9,180.7 L399.3,181.0 L400.8,181.2 L402.2,181.2 L403.6,181.1 L405.1,180.8 L406.5,180.4 L408.0,179.8 L409.4,179.1 L410.9,178.2 L412.3,177.1 L413.8,175.9 L415.2,174.5 L416.7,173.0 L418.1,171.3 L419.5,169.5 L421.0,167.5 L422.4,165.5 L423.9,163.3 L425.3,160.9 L426.8,158.5 L428.2,156.0 L429.7,153.4 L431.1,150.8 L432.6,148.1 L434.0,145.3 L435.4,142.5 L436.9,139.7 L438.3,136.8 L439.8,134.0 L441.2,131.1 L442.7,128.3 L444.1,125.5 L445.6,122.7 L447.0,120.0 L448.5,117.3 L449.9,114.7 L451.3,112.2 L452.8,109.8 L454.2,107.4 L455.7,105.1 L457.1,102.9 L458.6,100.9 L460.0,98.9 L461.5,97.0 L462.9,95.3 L464.4,93.7 L465.8,92.2 L467.2,90.8 L468.7,89.6 L470.1,88.4 L471.6,87.4 L473.0,86.6 L474.5,85.9 L475.9,85.3 L477.4,84.8 L478.8,84.5 L480.2,84.3 L481.7,84.2 L483.1,84.3 L484.6,84.4 L486.0,84.7 L487.5,85.2 L488.9,85.7 L490.4,86.3 L491.8,87.1 L493.3,87.9 L494.7,88.9 L496.1,89.9 L497.6,91.0 L499.0,92.1 L500.5,93.4 L501.9,94.7 L503.4,96.0 L504.8,97.4 L506.3,98.8 L507.7,100.2 L509.2,101.6 L510.6,103.0 L512.0,104.5 L513.5,105.9 L514.9,107.2 L516.4,108.6 L517.8,109.9 L519.3,111.2 L520.7,112.4 L522.2,113.5 L523.6,114.6 L525.1,115.7 L526.5,116.6 L527.9,117.5 L529.4,118.4 L530.8,119.1 L532.3,119.8 L533.7,120.5 L535.2,121.1 L536.6,121.6 L538.1,122.0 L539.5,122.4 L541.0,122.8 L542.4,123.1 L543.8,123.4 L545.3,123.7 L546.7,124.0 L548.2,124.2 L549.6,124.4 L551.1,124.7 L552.5,124.9 L554.0,125.2 L555.4,125.5 L556.8,125.8 L558.3,126.1 L559.7,126.5 L561.2,126.9 L562.6,127.4 L564.1,127.9 L565.5,128.5 L567.0,129.1 L568.4,129.8 L569.9,130.5 L571.3,131.3 L572.7,132.2 L574.2,133.1 L575.6,134.0 L577.1,135.1 L578.5,136.2 L580.0,137.3 L581.4,138.5 L582.9,139.7 L584.3,141.0 L585.8,142.4 L587.2,143.8 L587.2,149.8 L585.8,148.4 L584.3,147.0 L582.9,145.7 L581.4,144.5 L580.0,143.3 L578.5,142.2 L577.1,141.1 L575.6,140.0 L574.2,139.1 L572.7,138.2 L571.3,137.3 L569.9,136.5 L568.4,135.8 L567.0,135.1 L565.5,134.5 L564.1,133.9 L562.6,133.4 L561.2,132.9 L559.7,132.5 L558.3,132.1 L556.8,131.8 L555.4,131.5 L554.0,131.2 L552.5,130.9 L551.1,130.7 L549.6,130.4 L548.2,130.2 L546.7,130.0 L545.3,129.7 L543.8,129.4 L542.4,129.1 L541.0,128.8 L539.5,128.4 L538.1,128.0 L536.6,127.6 L535.2,127.1 L533.7,126.5 L532.3,125.8 L530.8,125.1 L529.4,124.4 L527.9,123.5 L526.5,122.6 L525.1,121.7 L523.6,120.6 L522.2,119.5 L520.7,118.4 L519.3,117.2 L517.8,115.9 L516.4,114.6 L514.9,113.2 L513.5,111.9 L512.0,110.5 L510.6,109.0 L509.2,107.6 L507.7,106.2 L506.3,104.8 L504.8,103.4 L503.4,102.0 L501.9,100.7 L500.5,99.4 L499.0,98.1 L497.6,97.0 L496.1,95.9 L494.7,94.9 L493.3,93.9 L491.8,93.1 L490.4,92.3 L488.9,91.7 L487.5,91.2 L486.0,90.7 L484.6,90.4 L483.1,90.3 L481.7,90.2 L480.2,90.3 L478.8,90.5 L477.4,90.8 L475.9,91.3 L474.5,91.9 L473.0,92.6 L471.6,93.4 L470.1,94.4 L468.7,95.6 L467.2,96.8 L465.8,98.2 L464.4,99.7 L462.9,101.3 L461.5,103.0 L460.0,104.9 L458.6,106.9 L457.1,108.9 L455.7,111.1 L454.2,113.4 L452.8,115.8 L451.3,118.2 L449.9,120.7 L448.5,123.3 L447.0,126.0 L445.6,128.7 L444.1,131.5 L442.7,134.3 L441.2,137.1 L439.8,140.0 L438.3,142.8 L436.9,145.7 L435.4,148.5 L434.0,151.3 L432.6,154.1 L431.1,156.8 L429.7,159.4 L428.2,162.0 L426.8,164.5 L425.3,166.9 L423.9,169.3 L422.4,171.5 L421.0,173.5 L419.5,175.5 L418.1,177.3 L416.7,179.0 L415.2,180.5 L413.8,181.9 L412.3,183.1 L410.9,184.2 L409.4,185.1 L408.0,185.8 L406.5,186.4 L405.1,186.8 L403.6,187.1 L402.2,187.2 L400.8,187.2 L399.3,187.0 L397.9,186.7 L396.4,186.2 L395.0,185.6 L393.5,184.9 L392.1,184.1 L390.6,183.2 L389.2,182.2 L387.8,181.1 L386.3,179.9 L384.9,178.6 L383.4,177.3 L382.0,175.9 L380.5,174.4 L379.1,173.0 L377.6,171.4 L376.2,169.9 L374.7,168.3 L373.3,166.7 L371.9,165.1 L370.4,163.5 L369.0,161.9 L367.5,160.3 L366.1,158.7 L364.6,157.2 L363.2,155.6 L361.7,154.1 L360.3,152.6 L358.8,151.2 L357.4,149.8 Z" fill="#4b40e6" fill-opacity="0.41"/>
<path d="M357.4,146.8 L358.8,148.2 L360.3,149.6 L361.7,151.1 L363.2,152.6 L364.6,154.2 L366.1,155.7 L367.5,157.3 L369.0,158.9 L370.4,160.5 L371.9,162.1 L373.3,163.7 L374.7,165.3 L376.2,166.9 L377.6,168.4 L379.1,170.0 L380.5,171.4 L382.0,172.9 L383.4,174.3 L384.9,175.6 L386.3,176.9 L387.8,178.1 L389.2,179.2 L390.6,180.2 L392.1,181.1 L393.5,181.9 L395.0,182.6 L396.4,183.2 L397.9,183.7 L399.3,184.0 L400.8,184.2 L402.2,184.2 L403.6,184.1 L405.1,183.8 L406.5,183.4 L408.0,182.8 L409.4,182.1 L410.9,181.2 L412.3,180.1 L413.8,178.9 L415.2,177.5 L416.7,176.0 L418.1,174.3 L419.5,172.5 L421.0,170.5 L422.4,168.5 L423.9,166.3 L425.3,163.9 L426.8,161.5 L428.2,159.0 L429.7,156.4 L431.1,153.8 L432.6,151.1 L434.0,148.3 L435.4,145.5 L436.9,142.7 L438.3,139.8 L439.8,137.0 L441.2,134.1 L442.7,131.3 L444.1,128.5 L445.6,125.7 L447.0,123.0 L448.5,120.3 L449.9,117.7 L451.3,115.2 L452.8,112.8 L454.2,110.4 L455.7,108.1 L457.1,105.9 L458.6,103.9 L460.0,101.9 L461.5,100.0 L462.9,98.3 L464.4,96.7 L465.8,95.2 L467.2,93.8 L468.7,92.6 L470.1,91.4 L471.6,90.4 L473.0,89.6 L474.5,88.9 L475.9,88.3 L477.4,87.8 L478.8,87.5 L480.2,87.3 L481.7,87.2 L483.1,87.3 L484.6,87.4 L486.0,87.7 L487.5,88.2 L488.9,88.7 L490.4,89.3 L491.8,90.1 L493.3,90.9 L494.7,91.9 L496.1,92.9 L497.6,94.0 L499.0,95.1 L500.5,96.4 L501.9,97.7 L503.4,99.0 L504.8,100.4 L506.3,101.8 L507.7,103.2 L509.2,104.6 L510.6,106.0 L512.0,107.5 L513.5,108.9 L514.9,110.2 L516.4,111.6 L517.8,112.9 L519.3,114.2 L520.7,115.4 L522.2,116.5 L523.6,117.6 L525.1,118.7 L526.5,119.6 L527.9,120.5 L529.4,121.4 L530.8,122.1 L532.3,122.8 L533.7,123.5 L535.2,124.1 L536.6,124.6 L538.1,125.0 L539.5,125.4 L541.0,125.8 L542.4,126.1 L543.8,126.4 L545.3,126.7 L546.7,127.0 L548.2,127.2 L549.6,127.4 L551.1,127.7 L552.5,127.9 L554.0,128.2 L555.4,128.5 L556.8,128.8 L558.3,129.1 L559.7,129.5 L561.2,129.9 L562.6,130.4 L564.1,130.9 L565.5,131.5 L567.0,132.1 L568.4,132.8 L569.9,133.5 L571.3,134.3 L572.7,135.2 L574.2,136.1 L575.6,137.0 L577.1,138.1 L578.5,139.2 L580.0,140.3 L581.4,141.5 L582.9,142.7 L584.3,144.0 L585.8,145.4 L587.2,146.8" fill="none" stroke="#1a1aa8" stroke-width="1.5"/>
<path d="M357.4,162.0 L358.8,162.5 L360.3,163.1 L361.7,163.6 L363.2,164.2 L364.6,164.8 L366.1,165.4 L367.5,166.0 L369.0,166.5 L370.4,167.1 L371.9,167.7 L373.3,168.2 L374.7,168.7 L376.2,169.2 L377.6,169.7 L379.1,170.1 L380.5,170.5 L382.0,170.8 L383.4,171.1 L384.9,171.4 L386.3,171.6 L387.8,171.7 L389.2,171.8 L390.6,171.8 L392.1,171.8 L393.5,171.6 L395.0,171.5 L396.4,171.2 L397.9,170.9 L399.3,170.5 L400.8,170.0 L402.2,169.4 L403.6,168.8 L405.1,168.1 L406.5,167.3 L408.0,166.4 L409.4,165.4 L410.9,164.3 L412.3,163.1 L413.8,161.8 L415.2,160.4 L416.7,158.9 L418.1,157.3 L419.5,155.6 L421.0,153.8 L422.4,151.9 L423.9,149.8 L425.3,147.7 L426.8,145.4 L428.2,143.1 L429.7,140.6 L431.1,138.1 L432.6,135.5 L434.0,132.9 L435.4,130.2 L436.9,127.4 L438.3,124.6 L439.8,121.7 L441.2,118.9 L442.7,116.0 L444.1,113.1 L445.6,110.2 L447.0,107.4 L448.5,104.5 L449.9,101.8 L451.3,99.1 L452.8,96.4 L454.2,93.9 L455.7,91.4 L457.1,89.1 L458.6,86.9 L460.0,84.8 L461.5,82.8 L462.9,80.9 L464.4,79.2 L465.8,77.7 L467.2,76.3 L468.7,75.1 L470.1,74.0 L471.6,73.0 L473.0,72.3 L474.5,71.6 L475.9,71.2 L477.4,70.8 L478.8,70.7 L480.2,70.7 L481.7,70.9 L483.1,71.4 L484.6,71.9 L486.0,72.6 L487.5,73.3 L488.9,74.2 L490.4,75.2 L491.8,76.2 L493.3,77.4 L494.7,78.6 L496.1,80.0 L497.6,81.4 L499.0,82.8 L500.5,84.4 L501.9,85.9 L503.4,87.6 L504.8,89.3 L506.3,91.1 L507.7,92.8 L509.2,94.7 L510.6,96.6 L512.0,98.5 L513.5,100.5 L514.9,102.4 L516.4,104.5 L517.8,106.5 L519.3,108.5 L520.7,110.6 L522.2,112.6 L523.6,114.6 L525.1,116.6 L526.5,118.6 L527.9,120.6 L529.4,122.6 L530.8,124.6 L532.3,126.5 L533.7,128.4 L535.2,130.3 L536.6,132.1 L538.1,133.8 L539.5,135.5 L541.0,137.2 L542.4,138.8 L543.8,140.3 L545.3,141.7 L546.7,143.1 L548.2,144.4 L549.6,145.6 L551.1,146.7 L552.5,147.8 L554.0,148.8 L555.4,149.7 L556.8,150.6 L558.3,151.4 L559.7,152.1 L561.2,152.8 L562.6,153.4 L564.1,154.0 L565.5,154.6 L567.0,155.1 L568.4,155.6 L569.9,156.1 L571.3,156.5 L572.7,157.0 L574.2,157.5 L575.6,157.9 L577.1,158.4 L578.5,158.8 L580.0,159.3 L581.4,159.8 L582.9,160.4 L584.3,160.9 L585.8,161.5 L587.2,162.0 L587.2,166.6 L585.8,166.1 L584.3,165.6 L582.9,165.2 L581.4,164.7 L580.0,164.3 L578.5,163.9 L577.1,163.5 L575.6,163.1 L574.2,162.7 L572.7,162.3 L571.3,161.9 L569.9,161.5 L568.4,161.1 L567.0,160.7 L565.5,160.3 L564.1,159.8 L562.6,159.3 L561.2,158.7 L559.7,158.1 L558.3,157.4 L556.8,156.7 L555.4,155.9 L554.0,155.1 L552.5,154.1 L551.1,153.2 L549.6,152.1 L548.2,150.9 L546.7,149.7 L545.3,148.4 L543.8,147.1 L542.4,145.6 L541.0,144.1 L539.5,142.5 L538.1,140.9 L536.6,139.2 L535.2,137.5 L533.7,135.7 L532.3,133.9 L530.8,132.0 L529.4,130.1 L527.9,128.2 L526.5,126.3 L525.1,124.4 L523.6,122.4 L522.2,120.5 L520.7,118.5 L519.3,116.7 L517.8,114.8 L516.4,113.0 L514.9,111.2 L513.5,109.4 L512.0,107.7 L510.6,106.0 L509.2,104.3 L507.7,102.7 L506.3,101.1 L504.8,99.6 L503.4,98.1 L501.9,96.7 L500.5,95.3 L499.0,94.0 L497.6,92.7 L496.1,91.5 L494.7,90.4 L493.3,89.4 L491.8,88.5 L490.4,87.6 L488.9,86.9 L487.5,86.2 L486.0,85.7 L484.6,85.2 L483.1,84.9 L481.7,84.7 L480.2,84.6 L478.8,84.5 L477.4,84.5 L475.9,84.7 L474.5,85.0 L473.0,85.4 L471.6,86.1 L470.1,86.8 L468.7,87.7 L467.2,88.8 L465.8,90.0 L464.4,91.4 L462.9,93.0 L461.5,94.6 L460.0,96.4 L458.6,98.4 L457.1,100.4 L455.7,102.6 L454.2,104.9 L452.8,107.3 L451.3,109.7 L449.9,112.3 L448.5,114.9 L447.0,117.5 L445.6,120.2 L444.1,122.9 L442.7,125.6 L441.2,128.3 L439.8,131.0 L438.3,133.7 L436.9,136.4 L435.4,139.0 L434.0,141.5 L432.6,144.0 L431.1,146.4 L429.7,148.8 L428.2,151.0 L426.8,153.2 L425.3,155.3 L423.9,157.3 L422.4,159.1 L421.0,160.9 L419.5,162.6 L418.1,164.3 L416.7,165.8 L415.2,167.2 L413.8,168.6 L412.3,169.8 L410.9,170.9 L409.4,172.0 L408.0,172.9 L406.5,173.7 L405.1,174.5 L403.6,175.2 L402.2,175.8 L400.8,176.3 L399.3,176.7 L397.9,177.0 L396.4,177.3 L395.0,177.5 L393.5,177.6 L392.1,177.7 L390.6,177.7 L389.2,177.6 L387.8,177.5 L386.3,177.3 L384.9,177.0 L383.4,176.7 L382.0,176.4 L380.5,176.0 L379.1,175.5 L377.6,175.1 L376.2,174.5 L374.7,174.0 L373.3,173.4 L371.9,172.8 L370.4,172.2 L369.0,171.6 L367.5,171.0 L366.1,170.3 L364.6,169.7 L363.2,169.1 L361.7,168.4 L360.3,167.8 L358.8,167.2 L357.4,166.6 Z" fill="#f0902a" fill-opacity="0.38"/>
<path d="M357.4,164.3 L358.8,164.9 L360.3,165.5 L361.7,166.0 L363.2,166.6 L364.6,167.2 L366.1,167.8 L367.5,168.5 L369.0,169.1 L370.4,169.7 L371.9,170.2 L373.3,170.8 L374.7,171.4 L376.2,171.9 L377.6,172.4 L379.1,172.8 L380.5,173.2 L382.0,173.6 L383.4,173.9 L384.9,174.2 L386.3,174.4 L387.8,174.6 L389.2,174.7 L390.6,174.7 L392.1,174.7 L393.5,174.6 L395.0,174.5 L396.4,174.3 L397.9,174.0 L399.3,173.6 L400.8,173.1 L402.2,172.6 L403.6,172.0 L405.1,171.3 L406.5,170.5 L408.0,169.6 L409.4,168.7 L410.9,167.6 L412.3,166.4 L413.8,165.2 L415.2,163.8 L416.7,162.4 L418.1,160.8 L419.5,159.1 L421.0,157.4 L422.4,155.5 L423.9,153.5 L425.3,151.5 L426.8,149.3 L428.2,147.1 L429.7,144.7 L431.1,142.3 L432.6,139.8 L434.0,137.2 L435.4,134.6 L436.9,131.9 L438.3,129.1 L439.8,126.4 L441.2,123.6 L442.7,120.8 L444.1,118.0 L445.6,115.2 L447.0,112.4 L448.5,109.7 L449.9,107.0 L451.3,104.4 L452.8,101.9 L454.2,99.4 L455.7,97.0 L457.1,94.8 L458.6,92.6 L460.0,90.6 L461.5,88.7 L462.9,86.9 L464.4,85.3 L465.8,83.9 L467.2,82.6 L468.7,81.4 L470.1,80.4 L471.6,79.5 L473.0,78.9 L474.5,78.3 L475.9,77.9 L477.4,77.7 L478.8,77.6 L480.2,77.6 L481.7,77.8 L483.1,78.1 L484.6,78.6 L486.0,79.1 L487.5,79.8 L488.9,80.5 L490.4,81.4 L491.8,82.4 L493.3,83.4 L494.7,84.5 L496.1,85.8 L497.6,87.0 L499.0,88.4 L500.5,89.8 L501.9,91.3 L503.4,92.8 L504.8,94.4 L506.3,96.1 L507.7,97.8 L509.2,99.5 L510.6,101.3 L512.0,103.1 L513.5,104.9 L514.9,106.8 L516.4,108.7 L517.8,110.7 L519.3,112.6 L520.7,114.6 L522.2,116.5 L523.6,118.5 L525.1,120.5 L526.5,122.5 L527.9,124.4 L529.4,126.4 L530.8,128.3 L532.3,130.2 L533.7,132.1 L535.2,133.9 L536.6,135.7 L538.1,137.4 L539.5,139.0 L541.0,140.7 L542.4,142.2 L543.8,143.7 L545.3,145.1 L546.7,146.4 L548.2,147.7 L549.6,148.8 L551.1,149.9 L552.5,151.0 L554.0,151.9 L555.4,152.8 L556.8,153.6 L558.3,154.4 L559.7,155.1 L561.2,155.7 L562.6,156.3 L564.1,156.9 L565.5,157.4 L567.0,157.9 L568.4,158.4 L569.9,158.8 L571.3,159.2 L572.7,159.7 L574.2,160.1 L575.6,160.5 L577.1,160.9 L578.5,161.4 L580.0,161.8 L581.4,162.3 L582.9,162.8 L584.3,163.3 L585.8,163.8 L587.2,164.3" fill="none" stroke="#e08a26" stroke-width="1.4"/>
<path d="M357.4,174.0 L358.8,174.4 L360.3,174.9 L361.7,175.3 L363.2,175.8 L364.6,176.2 L366.1,176.7 L367.5,177.2 L369.0,177.7 L370.4,178.2 L371.9,178.6 L373.3,179.1 L374.7,179.6 L376.2,180.1 L377.6,180.6 L379.1,181.0 L380.5,181.5 L382.0,181.9 L383.4,182.4 L384.9,182.8 L386.3,183.2 L387.8,183.5 L389.2,183.9 L390.6,184.1 L392.1,184.4 L393.5,184.6 L395.0,184.7 L396.4,184.8 L397.9,184.8 L399.3,184.8 L400.8,184.6 L402.2,184.4 L403.6,184.0 L405.1,183.6 L406.5,183.1 L408.0,182.4 L409.4,181.7 L410.9,180.8 L412.3,179.8 L413.8,178.6 L415.2,177.3 L416.7,175.9 L418.1,174.4 L419.5,172.7 L421.0,170.9 L422.4,169.0 L423.9,166.9 L425.3,164.8 L426.8,162.5 L428.2,160.1 L429.7,157.6 L431.1,155.1 L432.6,152.4 L434.0,149.7 L435.4,147.0 L436.9,144.2 L438.3,141.3 L439.8,138.5 L441.2,135.6 L442.7,132.7 L444.1,129.9 L445.6,127.1 L447.0,124.3 L448.5,121.5 L449.9,118.9 L451.3,116.3 L452.8,113.8 L454.2,111.4 L455.7,109.0 L457.1,106.8 L458.6,104.7 L460.0,102.7 L461.5,100.8 L462.9,99.1 L464.4,97.5 L465.8,96.0 L467.2,94.6 L468.7,93.4 L470.1,92.3 L471.6,91.3 L473.0,90.5 L474.5,89.8 L475.9,89.2 L477.4,88.8 L478.8,88.5 L480.2,88.3 L481.7,88.2 L483.1,88.3 L484.6,88.4 L486.0,88.7 L487.5,89.1 L488.9,89.6 L490.4,90.2 L491.8,90.9 L493.3,91.7 L494.7,92.7 L496.1,93.7 L497.6,94.8 L499.0,96.0 L500.5,97.3 L501.9,98.7 L503.4,100.2 L504.8,101.7 L506.3,103.4 L507.7,105.1 L509.2,106.8 L510.6,108.7 L512.0,110.6 L513.5,112.5 L514.9,114.5 L516.4,116.5 L517.8,118.6 L519.3,120.6 L520.7,122.7 L522.2,124.8 L523.6,126.9 L525.1,129.0 L526.5,131.1 L527.9,133.2 L529.4,135.2 L530.8,137.2 L532.3,139.2 L533.7,141.1 L535.2,142.9 L536.6,144.7 L538.1,146.5 L539.5,148.1 L541.0,149.8 L542.4,151.3 L543.8,152.8 L545.3,154.2 L546.7,155.5 L548.2,156.7 L549.6,157.9 L551.1,159.0 L552.5,160.1 L554.0,161.0 L555.4,161.9 L556.8,162.8 L558.3,163.6 L559.7,164.4 L561.2,165.1 L562.6,165.7 L564.1,166.3 L565.5,166.9 L567.0,167.5 L568.4,168.0 L569.9,168.5 L571.3,169.0 L572.7,169.5 L574.2,170.0 L575.6,170.4 L577.1,170.9 L578.5,171.3 L580.0,171.8 L581.4,172.2 L582.9,172.6 L584.3,173.1 L585.8,173.5 L587.2,174.0" fill="none" stroke="#46c8d6" stroke-width="1.5" stroke-dasharray="3.2 2.6"/>
<path d="M357.4,101.7 L358.8,102.5 L360.3,103.4 L361.7,104.3 L363.2,105.3 L364.6,106.2 L366.1,107.3 L367.5,108.3 L369.0,109.3 L370.4,110.4 L371.9,111.5 L373.3,112.6 L374.7,113.7 L376.2,114.7 L377.6,115.8 L379.1,116.9 L380.5,117.9 L382.0,119.0 L383.4,120.0 L384.9,121.0 L386.3,122.0 L387.8,122.9 L389.2,123.8 L390.6,124.7 L392.1,125.6 L393.5,126.4 L395.0,127.2 L396.4,127.9 L397.9,128.6 L399.3,129.2 L400.8,129.8 L402.2,130.4 L403.6,130.9 L405.1,131.4 L406.5,131.8 L408.0,132.2 L409.4,132.5 L410.9,132.8 L412.3,133.0 L413.8,133.2 L415.2,133.3 L416.7,133.4 L418.1,133.4 L419.5,133.4 L421.0,133.2 L422.4,133.0 L423.9,132.8 L425.3,132.5 L426.8,132.2 L428.2,131.9 L429.7,131.5 L431.1,131.2 L432.6,130.8 L434.0,130.4 L435.4,130.0 L436.9,129.7 L438.3,129.3 L439.8,128.9 L441.2,128.6 L442.7,128.3 L444.1,128.0 L445.6,127.7 L447.0,127.4 L448.5,127.2 L449.9,126.9 L451.3,126.7 L452.8,126.6 L454.2,126.4 L455.7,126.3 L457.1,126.2 L458.6,126.1 L460.0,126.0 L461.5,126.0 L462.9,125.9 L464.4,125.9 L465.8,125.9 L467.2,125.9 L468.7,125.9 L470.1,125.9 L471.6,126.0 L473.0,126.1 L474.5,126.2 L475.9,126.4 L477.4,126.5 L478.8,126.5 L480.2,126.6 L481.7,126.7 L483.1,126.7 L484.6,126.7 L486.0,126.7 L487.5,126.6 L488.9,126.6 L490.4,126.5 L491.8,126.4 L493.3,126.2 L494.7,126.0 L496.1,125.9 L497.6,125.6 L499.0,125.4 L500.5,125.1 L501.9,124.8 L503.4,124.5 L504.8,124.1 L506.3,123.7 L507.7,123.4 L509.2,123.0 L510.6,122.5 L512.0,122.1 L513.5,121.6 L514.9,121.0 L516.4,120.5 L517.8,119.9 L519.3,119.3 L520.7,118.7 L522.2,118.0 L523.6,117.4 L525.1,116.6 L526.5,115.9 L527.9,115.1 L529.4,114.4 L530.8,113.6 L532.3,112.8 L533.7,111.9 L535.2,111.1 L536.6,110.2 L538.1,109.4 L539.5,108.5 L541.0,107.6 L542.4,106.7 L543.8,105.8 L545.3,104.9 L546.7,104.0 L548.2,103.1 L549.6,102.3 L551.1,101.5 L552.5,100.7 L554.0,100.0 L555.4,99.4 L556.8,98.8 L558.3,98.2 L559.7,97.7 L561.2,97.3 L562.6,96.9 L564.1,96.6 L565.5,96.4 L567.0,96.3 L568.4,96.2 L569.9,96.2 L571.3,96.3 L572.7,96.4 L574.2,96.6 L575.6,96.9 L577.1,97.3 L578.5,97.7 L580.0,98.2 L581.4,98.8 L582.9,99.4 L584.3,100.1 L585.8,100.9 L587.2,101.7 L587.2,109.7 L585.8,108.9 L584.3,108.2 L582.9,107.5 L581.4,106.9 L580.0,106.3 L578.5,105.8 L577.1,105.4 L575.6,105.0 L574.2,104.7 L572.7,104.5 L571.3,104.4 L569.9,104.3 L568.4,104.3 L567.0,104.4 L565.5,104.6 L564.1,104.8 L562.6,105.1 L561.2,105.5 L559.7,105.9 L558.3,106.5 L556.8,107.0 L555.4,107.6 L554.0,108.3 L552.5,109.0 L551.1,109.8 L549.6,110.6 L548.2,111.4 L546.7,112.3 L545.3,113.2 L543.8,114.1 L542.4,115.0 L541.0,116.0 L539.5,116.9 L538.1,118.0 L536.6,119.0 L535.2,120.0 L533.7,121.0 L532.3,121.9 L530.8,122.9 L529.4,123.9 L527.9,124.8 L526.5,125.7 L525.1,126.6 L523.6,127.4 L522.2,128.3 L520.7,129.1 L519.3,129.9 L517.8,130.6 L516.4,131.3 L514.9,132.0 L513.5,132.7 L512.0,133.3 L510.6,133.9 L509.2,134.5 L507.7,135.1 L506.3,135.6 L504.8,136.1 L503.4,136.6 L501.9,137.0 L500.5,137.4 L499.0,137.7 L497.6,138.1 L496.1,138.4 L494.7,138.6 L493.3,138.9 L491.8,139.1 L490.4,139.3 L488.9,139.5 L487.5,139.6 L486.0,139.8 L484.6,139.9 L483.1,139.9 L481.7,140.0 L480.2,140.0 L478.8,140.0 L477.4,140.0 L475.9,140.0 L474.5,140.0 L473.0,140.0 L471.6,139.9 L470.1,139.9 L468.7,139.7 L467.2,139.5 L465.8,139.3 L464.4,139.1 L462.9,138.9 L461.5,138.8 L460.0,138.6 L458.6,138.5 L457.1,138.4 L455.7,138.3 L454.2,138.2 L452.8,138.1 L451.3,138.1 L449.9,138.1 L448.5,138.1 L447.0,138.2 L445.6,138.3 L444.1,138.3 L442.7,138.5 L441.2,138.6 L439.8,138.7 L438.3,138.9 L436.9,139.0 L435.4,139.2 L434.0,139.4 L432.6,139.5 L431.1,139.7 L429.7,139.9 L428.2,140.0 L426.8,140.1 L425.3,140.2 L423.9,140.3 L422.4,140.4 L421.0,140.4 L419.5,140.4 L418.1,140.5 L416.7,140.5 L415.2,140.5 L413.8,140.5 L412.3,140.4 L410.9,140.2 L409.4,140.0 L408.0,139.8 L406.5,139.5 L405.1,139.1 L403.6,138.7 L402.2,138.3 L400.8,137.8 L399.3,137.2 L397.9,136.6 L396.4,135.9 L395.0,135.2 L393.5,134.4 L392.1,133.6 L390.6,132.7 L389.2,131.8 L387.8,130.9 L386.3,130.0 L384.9,129.0 L383.4,128.0 L382.0,127.0 L380.5,125.9 L379.1,124.9 L377.6,123.8 L376.2,122.7 L374.7,121.7 L373.3,120.6 L371.9,119.5 L370.4,118.4 L369.0,117.3 L367.5,116.3 L366.1,115.3 L364.6,114.2 L363.2,113.3 L361.7,112.3 L360.3,111.4 L358.8,110.5 L357.4,109.7 Z" fill="#e8323a" fill-opacity="0.4"/>
<path d="M357.4,105.7 L358.8,106.5 L360.3,107.4 L361.7,108.3 L363.2,109.3 L364.6,110.2 L366.1,111.3 L367.5,112.3 L369.0,113.3 L370.4,114.4 L371.9,115.5 L373.3,116.6 L374.7,117.7 L376.2,118.7 L377.6,119.8 L379.1,120.9 L380.5,121.9 L382.0,123.0 L383.4,124.0 L384.9,125.0 L386.3,126.0 L387.8,126.9 L389.2,127.8 L390.6,128.7 L392.1,129.6 L393.5,130.4 L395.0,131.2 L396.4,131.9 L397.9,132.6 L399.3,133.2 L400.8,133.8 L402.2,134.3 L403.6,134.8 L405.1,135.3 L406.5,135.6 L408.0,136.0 L409.4,136.3 L410.9,136.5 L412.3,136.7 L413.8,136.8 L415.2,136.9 L416.7,136.9 L418.1,136.9 L419.5,136.9 L421.0,136.8 L422.4,136.7 L423.9,136.5 L425.3,136.4 L426.8,136.2 L428.2,135.9 L429.7,135.7 L431.1,135.4 L432.6,135.2 L434.0,134.9 L435.4,134.6 L436.9,134.4 L438.3,134.1 L439.8,133.8 L441.2,133.6 L442.7,133.4 L444.1,133.2 L445.6,133.0 L447.0,132.8 L448.5,132.6 L449.9,132.5 L451.3,132.4 L452.8,132.4 L454.2,132.3 L455.7,132.3 L457.1,132.3 L458.6,132.3 L460.0,132.3 L461.5,132.4 L462.9,132.4 L464.4,132.5 L465.8,132.6 L467.2,132.7 L468.7,132.8 L470.1,132.9 L471.6,132.9 L473.0,133.0 L474.5,133.1 L475.9,133.2 L477.4,133.2 L478.8,133.3 L480.2,133.3 L481.7,133.3 L483.1,133.3 L484.6,133.3 L486.0,133.2 L487.5,133.1 L488.9,133.0 L490.4,132.9 L491.8,132.7 L493.3,132.6 L494.7,132.3 L496.1,132.1 L497.6,131.8 L499.0,131.5 L500.5,131.2 L501.9,130.9 L503.4,130.5 L504.8,130.1 L506.3,129.7 L507.7,129.2 L509.2,128.7 L510.6,128.2 L512.0,127.7 L513.5,127.1 L514.9,126.5 L516.4,125.9 L517.8,125.3 L519.3,124.6 L520.7,123.9 L522.2,123.2 L523.6,122.4 L525.1,121.6 L526.5,120.8 L527.9,120.0 L529.4,119.1 L530.8,118.2 L532.3,117.3 L533.7,116.4 L535.2,115.5 L536.6,114.6 L538.1,113.7 L539.5,112.7 L541.0,111.8 L542.4,110.9 L543.8,109.9 L545.3,109.0 L546.7,108.1 L548.2,107.3 L549.6,106.4 L551.1,105.7 L552.5,104.9 L554.0,104.2 L555.4,103.5 L556.8,102.9 L558.3,102.3 L559.7,101.8 L561.2,101.4 L562.6,101.0 L564.1,100.7 L565.5,100.5 L567.0,100.3 L568.4,100.3 L569.9,100.3 L571.3,100.3 L572.7,100.5 L574.2,100.7 L575.6,101.0 L577.1,101.3 L578.5,101.8 L580.0,102.3 L581.4,102.8 L582.9,103.5 L584.3,104.1 L585.8,104.9 L587.2,105.7" fill="none" stroke="#c21616" stroke-width="1.5"/>
<path d="M357.4,31.0 L357.4,216.0 L587.2,216.0" fill="none" stroke="#333" stroke-width="1.1"/>
<line x1="354.4" y1="31.00" x2="357.4" y2="31.00" stroke="#333" stroke-width="1.1"/>
<text transform="translate(351.4,33.80) scale(1,1.1)" font-family="Liberation Sans" font-size="8.1" text-anchor="end" fill="#222">100</text>
<line x1="354.4" y1="51.56" x2="357.4" y2="51.56" stroke="#333" stroke-width="1.1"/>
<text transform="translate(351.4,54.36) scale(1,1.1)" font-family="Liberation Sans" font-size="8.1" text-anchor="end" fill="#222">80</text>
<line x1="354.4" y1="72.11" x2="357.4" y2="72.11" stroke="#333" stroke-width="1.1"/>
<text transform="translate(351.4,74.91) scale(1,1.1)" font-family="Liberation Sans" font-size="8.1" text-anchor="end" fill="#222">60</text>
<line x1="354.4" y1="92.67" x2="357.4" y2="92.67" stroke="#333" stroke-width="1.1"/>
<text transform="translate(351.4,95.47) scale(1,1.1)" font-family="Liberation Sans" font-size="8.1" text-anchor="end" fill="#222">40</text>
<line x1="354.4" y1="113.22" x2="357.4" y2="113.22" stroke="#333" stroke-width="1.1"/>
<text transform="translate(351.4,116.02) scale(1,1.1)" font-family="Liberation Sans" font-size="8.1" text-anchor="end" fill="#222">20</text>
<line x1="354.4" y1="133.78" x2="357.4" y2="133.78" stroke="#333" stroke-width="1.1"/>
<text transform="translate(351.4,136.58) scale(1,1.1)" font-family="Liberation Sans" font-size="8.1" text-anchor="end" fill="#222">0</text>
<line x1="354.4" y1="154.33" x2="357.4" y2="154.33" stroke="#333" stroke-width="1.1"/>
<text transform="translate(351.4,157.13) scale(1,1.1)" font-family="Liberation Sans" font-size="8.1" text-anchor="end" fill="#222">−20</text>
<line x1="354.4" y1="174.89" x2="357.4" y2="174.89" stroke="#333" stroke-width="1.1"/>
<text transform="translate(351.4,177.69) scale(1,1.1)" font-family="Liberation Sans" font-size="8.1" text-anchor="end" fill="#222">−40</text>
<line x1="354.4" y1="195.44" x2="357.4" y2="195.44" stroke="#333" stroke-width="1.1"/>
<text transform="translate(351.4,198.24) scale(1,1.1)" font-family="Liberation Sans" font-size="8.1" text-anchor="end" fill="#222">−60</text>
<line x1="354.4" y1="216.00" x2="357.4" y2="216.00" stroke="#333" stroke-width="1.1"/>
<text transform="translate(351.4,218.80) scale(1,1.1)" font-family="Liberation Sans" font-size="8.1" text-anchor="end" fill="#222">−80</text>
<line x1="357.40" y1="216.0" x2="357.40" y2="220.0" stroke="#333" stroke-width="1.1"/>
<text transform="translate(357.40,227.9) scale(1,1.1)" font-family="Liberation Sans" font-size="8.1" text-anchor="middle" fill="#222">0</text>
<line x1="376.55" y1="216.0" x2="376.55" y2="218.0" stroke="#333" stroke-width="1.1"/>
<line x1="395.70" y1="216.0" x2="395.70" y2="220.0" stroke="#333" stroke-width="1.1"/>
<text transform="translate(395.70,227.9) scale(1,1.1)" font-family="Liberation Sans" font-size="8.1" text-anchor="middle" fill="#222">61</text>
<line x1="414.85" y1="216.0" x2="414.85" y2="218.0" stroke="#333" stroke-width="1.1"/>
<line x1="434.00" y1="216.0" x2="434.00" y2="220.0" stroke="#333" stroke-width="1.1"/>
<text transform="translate(434.00,227.9) scale(1,1.1)" font-family="Liberation Sans" font-size="8.1" text-anchor="middle" fill="#222">122</text>
<line x1="453.15" y1="216.0" x2="453.15" y2="218.0" stroke="#333" stroke-width="1.1"/>
<line x1="472.30" y1="216.0" x2="472.30" y2="220.0" stroke="#333" stroke-width="1.1"/>
<text transform="translate(472.30,227.9) scale(1,1.1)" font-family="Liberation Sans" font-size="8.1" text-anchor="middle" fill="#222">183</text>
<line x1="491.45" y1="216.0" x2="491.45" y2="218.0" stroke="#333" stroke-width="1.1"/>
<line x1="510.60" y1="216.0" x2="510.60" y2="220.0" stroke="#333" stroke-width="1.1"/>
<text transform="translate(510.60,227.9) scale(1,1.1)" font-family="Liberation Sans" font-size="8.1" text-anchor="middle" fill="#222">244</text>
<line x1="529.75" y1="216.0" x2="529.75" y2="218.0" stroke="#333" stroke-width="1.1"/>
<line x1="548.90" y1="216.0" x2="548.90" y2="220.0" stroke="#333" stroke-width="1.1"/>
<text transform="translate(548.90,227.9) scale(1,1.1)" font-family="Liberation Sans" font-size="8.1" text-anchor="middle" fill="#222">304</text>
<line x1="568.05" y1="216.0" x2="568.05" y2="218.0" stroke="#333" stroke-width="1.1"/>
<line x1="587.20" y1="216.0" x2="587.20" y2="220.0" stroke="#333" stroke-width="1.1"/>
<text transform="translate(587.20,227.9) scale(1,1.1)" font-family="Liberation Sans" font-size="8.1" text-anchor="middle" fill="#222">365</text>
<text transform="translate(472.29999999999995,245.9) scale(1,1.1)" font-family="Liberation Sans" font-size="13.6" text-anchor="middle" fill="#111">Day of year</text>
<text transform="translate(333.5,123.6) rotate(-90) scale(1.03,0.92)" font-family="Liberation Sans" font-size="13.3" text-anchor="middle" fill="#111">ΔAPO (per meg)</text>
<text transform="translate(363.4,47.0) scale(1,1.1)" font-family="Liberation Sans" font-size="13.5" fill="#111">(b) 45<tspan font-size="9" dy="-4.8">o</tspan><tspan dy="4.8">N, 175</tspan><tspan font-size="9" dy="-4.8">o</tspan><tspan dy="4.8">E</tspan></text>
<line x1="212.8" y1="38.30" x2="232.7" y2="38.30" stroke="#1a1aa8" stroke-width="1.6"/>
<text transform="translate(235.4,41.10) scale(1,1.1)" font-family="Liberation Sans" font-size="8.75" fill="#111">Obs</text>
<line x1="212.8" y1="48.80" x2="232.7" y2="48.80" stroke="#e8922a" stroke-width="1.6"/>
<text transform="translate(235.4,51.60) scale(1,1.1)" font-family="Liberation Sans" font-size="8.75" fill="#111">Sim</text>
<line x1="212.8" y1="59.30" x2="232.7" y2="59.30" stroke="#3ec6d0" stroke-width="1.6" stroke-dasharray="3.4 2.9"/>
<text transform="translate(235.4,62.10) scale(1,1.1)" font-family="Liberation Sans" font-size="8.75" fill="#111">Sim_adjusted</text>
<line x1="212.8" y1="69.80" x2="232.7" y2="69.80" stroke="#c21616" stroke-width="1.6"/>
<text transform="translate(235.4,72.60) scale(1,1.1)" font-family="Liberation Sans" font-size="8.75" fill="#111">Obs<tspan dx="0.5" font-size="12">–</tspan><tspan dx="0.7">Sim_adjusted</tspan></text>
<line x1="212.8" y1="76.4" x2="313.2" y2="76.4" stroke="#555" stroke-width="0.9"/>
</svg></body></html>
